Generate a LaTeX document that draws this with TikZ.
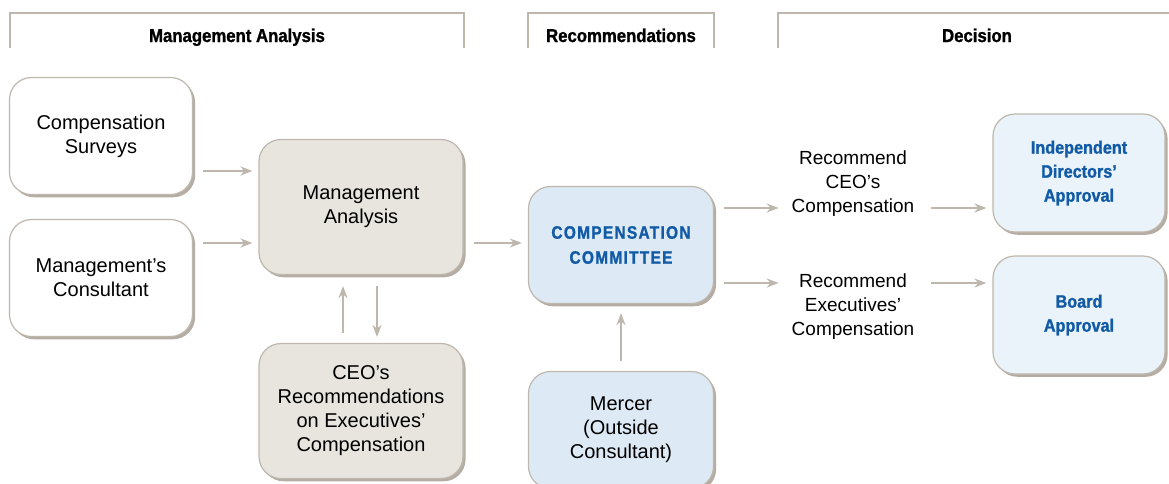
\documentclass[tikz,border=0pt]{standalone}
\usepackage{fontspec}
\setmainfont{Liberation Sans}
\newfontfamily\condfont[FakeStretch=0.9, BoldFeatures={FakeBold=1.2}]{Liberation Sans}
\newfontfamily\spacedfont[FakeStretch=0.86, LetterSpace=7, BoldFeatures={FakeBold=1.2}]{Liberation Sans}
\usetikzlibrary{positioning,arrows.meta,shadows}
\definecolor{linec}{RGB}{190,183,174}
\definecolor{shadowc}{RGB}{181,173,163}
\definecolor{grayfill}{RGB}{232,229,223}
\definecolor{bluefill}{RGB}{221,234,245}
\definecolor{lbluefill}{RGB}{234,242,250}
\definecolor{bluetext}{RGB}{16,90,166}
\tikzstyle{box}      = [rectangle, rounded corners=11pt, draw=linec, line width=0.6pt, align=center, font=\fontsize{10}{12}\selectfont, drop shadow={shadow xshift=1.3pt, shadow yshift=-1.4pt, fill=shadowc, opacity=1}]
\tikzstyle{whitebox} = [box, fill=white, minimum width=91.5pt, minimum height=58.5pt]
\tikzstyle{graybox}  = [box, fill=grayfill, minimum width=102pt, minimum height=67.5pt]
\tikzstyle{bluebox}  = [box, fill=bluefill, minimum width=92.5pt, minimum height=58.5pt]
\tikzstyle{decbox}   = [box, fill=lbluefill, minimum width=86pt, minimum height=59pt, text=bluetext, font=\condfont\bfseries\fontsize{9}{12}\selectfont]
\tikzstyle{flowtext} = [align=center, font=\fontsize{9.5}{12}\selectfont]
\tikzstyle{header}   = [anchor=base, font=\condfont\bfseries\fontsize{9.3}{11}\selectfont]
\tikzstyle{bracket}  = [draw=linec, line width=0.7pt]
\tikzstyle{arrow}    = [line width=1.2pt, draw=linec, -{Stealth[length=6pt,width=4.5pt]}, shorten <=5pt, shorten >=3pt]

\begin{document}
\begin{tikzpicture}[node distance=130pt]
        \useasboundingbox (0,0) rectangle (584.5pt,-241.5pt);

        % column headers
        \node (hdrmgmt) [header] at (118.5pt,-21pt) {Management Analysis};
        \node (hdrrec) [header] at (310.5pt,-21pt) {Recommendations};
        \node (hdrdec) [header] at (488.5pt,-21pt) {Decision};
        \draw [bracket] (5pt,-24pt) |- (232pt,-6.5pt) -- (232pt,-24pt);
        \draw [bracket] (264pt,-24pt) |- (357pt,-6.5pt) -- (357pt,-24pt);
        \draw [bracket] (389pt,-24pt) |- (600pt,-6.5pt);

        % boxes
        \node (surveys) [whitebox] at (50.5pt,-68pt) {Compensation\\Surveys};
        \node (consult) [whitebox, node distance=71pt, below of=surveys] {Management’s\\Consultant};
        \node (manalysis) [graybox, right of=surveys, yshift=-35.5pt] {Management\\Analysis};
        \node (ceorec) [graybox, node distance=102pt, below of=manalysis] {CEO’s\\Recommendations\\on Executives’\\Compensation};
        \node (committee) [bluebox, right of=manalysis, yshift=-19pt, text=bluetext, font=\spacedfont\bfseries\fontsize{9}{12.5}\selectfont] {COMPENSATION\\COMMITTEE};
        \node (mercer) [bluebox, node distance=92.5pt, below of=committee] {Mercer\\(Outside\\Consultant)};
        \node (ceocomp) [flowtext, right of=committee, xshift=-14pt, yshift=30.5pt] {Recommend\\CEO’s\\Compensation};
        \node (execcomp) [flowtext, node distance=61.5pt, below of=ceocomp] {Recommend\\Executives’\\Compensation};
        \node (indep) [decbox, right of=ceocomp, xshift=-17pt, yshift=5.5pt] {Independent\\Directors’\\Approval};
        \node (board) [decbox, node distance=71pt, below of=indep] {Board\\Approval};

        % connectors
        \draw [arrow] ([yshift=-17.5pt]surveys.east) -- ([yshift=-17.5pt]surveys.east -| manalysis.west);
        \draw [arrow] ([yshift=17.5pt]consult.east) -- ([yshift=17.5pt]consult.east -| manalysis.west);
        \draw [arrow] ([yshift=-18pt]manalysis.east) -- ([yshift=-18pt]manalysis.east -| committee.west);
        \draw [arrow, shorten >=5.5pt] ([xshift=-9pt]ceorec.north) -- ([xshift=-9pt]manalysis.south);
        \draw [arrow, shorten <=5.5pt] ([xshift=8pt]manalysis.south) -- ([xshift=8pt]ceorec.north);
        \draw [arrow, shorten >=4.5pt] (mercer) -- (committee);
        \draw [arrow] ([yshift=18.5pt]committee.east) -- ([yshift=18.5pt]committee.east -| ceocomp.west);
        \draw [arrow] ([yshift=-19pt]committee.east) -- ([yshift=-19pt]committee.east -| execcomp.west);
        \draw [arrow] ([yshift=-12pt]ceocomp.east) -- ([yshift=-12pt]ceocomp.east -| indep.west);
        \draw [arrow] ([yshift=12pt]execcomp.east) -- ([yshift=12pt]execcomp.east -| board.west);
    \end{tikzpicture}
\end{document}
